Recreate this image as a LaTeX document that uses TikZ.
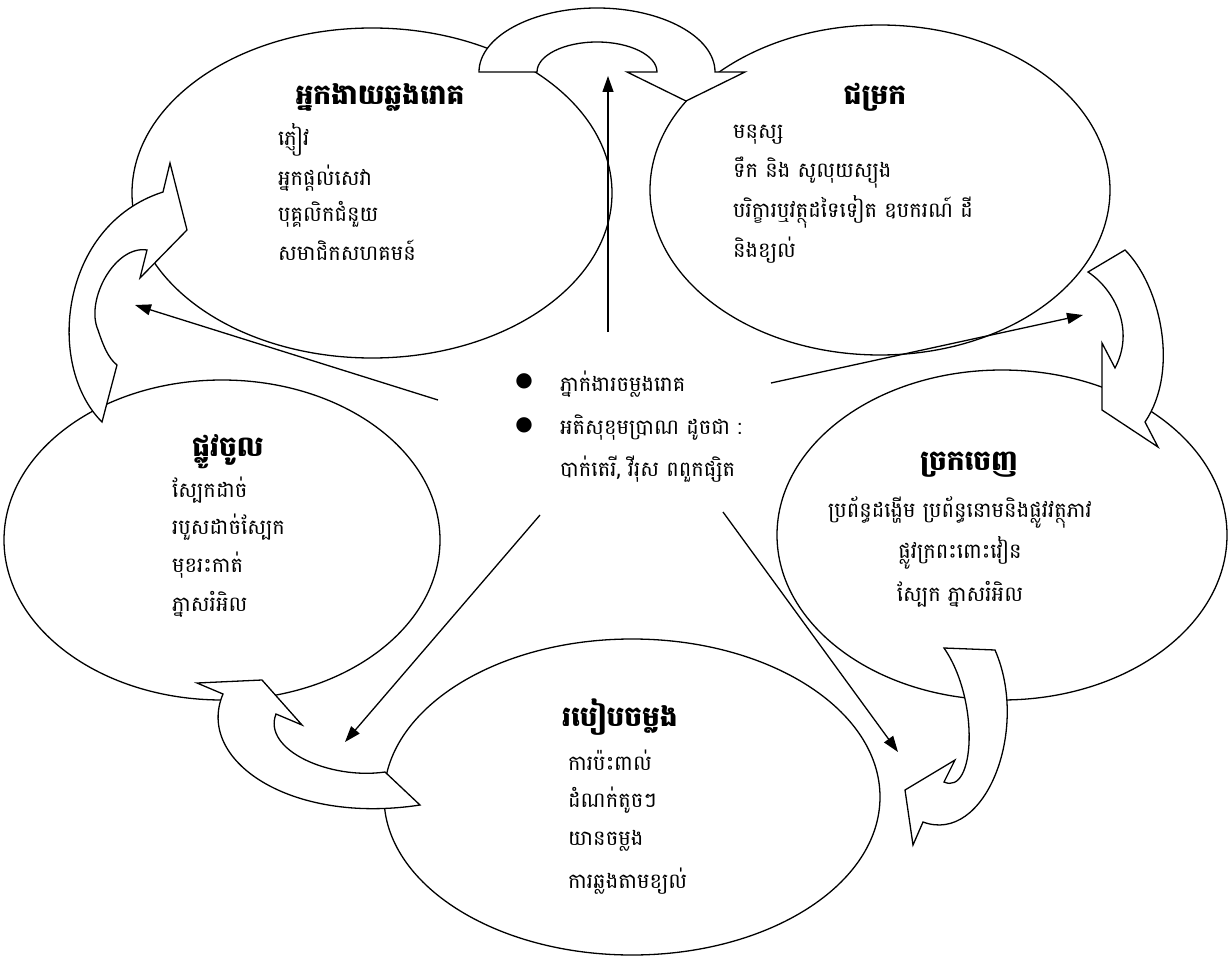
\documentclass[tikz,border=0pt]{standalone}
\usepackage{fontspec}
\newfontfamily\kh[Script=Khmer]{Battambang}
\newfontfamily\dv{DejaVu Sans}
\usetikzlibrary{arrows.meta,shapes.geometric}
\begin{document}
\begin{tikzpicture}[x=1pt,y=-1pt,
  ell/.style={draw,fill=white,line width=1.3pt,ellipse,inner sep=0},
  carrow/.style={draw,fill=white,line width=1.3pt,line join=miter},
  link/.style={-{Triangle[length=16pt,width=11pt]},line width=1.3pt},
  body/.style={font=\kh\fontsize{21}{24}\selectfont,anchor=west,inner sep=0},
  ttl/.style={font=\kh\bfseries\fontsize{28}{30}\selectfont,inner sep=0},
  bul/.style={font=\dv\fontsize{20}{20}\selectfont,inner sep=0},
]
\useasboundingbox (0,0) rectangle (1232,971);
% ellipses
\node[ell,minimum width=480,minimum height=330] (sus) at (372,193) {};
\node[ell,minimum width=460,minimum height=330] (res) at (880,190) {};
\node[ell,minimum width=436,minimum height=320] (ent) at (222,540) {};
\node[ell,minimum width=450,minimum height=330] (ext) at (1002,535) {};
\node[ell,minimum width=496,minimum height=316] (mod) at (632,797) {};
% curved arrows
\draw[carrow] (479,72) .. controls (479,36.7) and (532,8) .. (597,8)
  .. controls (662,8) and (715,36.7) .. (715,72) -- (745,72) -- (686,101)
  -- (627,72) -- (657,72) .. controls (657,55.4) and (630,42) .. (597,42)
  .. controls (564,42) and (537,55.4) .. (537,72) -- cycle;
\draw[carrow] (1088,272) -- (1125,250) .. controls (1160,285) and (1180,370) .. (1145,422)
  -- (1158,447) -- (1102,410) -- (1102,343) -- (1115,368)
  .. controls (1135,330) and (1115,290) .. cycle;
\draw[carrow] (944,648) -- (995,650) .. controls (1030,730) and (985,845) .. (923,822)
  -- (913,845) -- (905,790) -- (955,760) -- (944,782)
  .. controls (975,796) and (980,700) .. cycle;
\draw[carrow] (223,694) -- (197,683) -- (262,680) -- (302,725) -- (276,714)
  .. controls (262,750) and (330,780) .. (385,772) -- (420,805)
  .. controls (290,825) and (195,760) .. cycle;
\draw[carrow] (102,422) .. controls (45,365) and (60,225) .. (163,192)
  -- (170,163) -- (187,230) -- (140,278) -- (147,250)
  .. controls (115,245) and (85,300) .. (98,330)
  .. controls (103,345) and (108,358) .. (117,365) -- cycle;
% texts
\node[ttl] (t1) at (380,97) {អ្នកងាយឆ្លងរោគ};
\node[body] (a1) at (278,140) {ភ្ញៀវ};
\node[body] (a2) at (278,178) {អ្នកផ្តល់សេវា};
\node[body] (a3) at (278,214) {បុគ្គលិកជំនួយ};
\node[body] (a4) at (278,250) {សមាជិកសហគមន៍};
\node[ttl] (t2) at (875,97) {ជម្រក};
\node[body] (b1) at (733,135) {មនុស្ស};
\node[body] (b2) at (733,173) {ទឹក និង សូលុយស្យុង};
\node[body] (b3) at (733,212) {បរិក្ខារឬវត្ថុដទៃទៀត ឧបករណ៍ ដី};
\node[body] (b4) at (733,250) {និងខ្យល់};
\node[ttl] (t3) at (228,452) {ផ្លូវចូល};
\node[body] (c1) at (172,490) {ស្បែកដាច់};
\node[body] (c2) at (172,527) {របួសដាច់ស្បែក};
\node[body] (c3) at (172,565) {មុខរះកាត់};
\node[body] (c4) at (172,604) {ភ្នាសរំអិល};
\node[ttl] (t4) at (969,465) {ច្រកចេញ};
\node[body,anchor=center] (d1) at (960,512) {ប្រព័ន្ធដង្ហើម ប្រព័ន្ធនោមនិងផ្លូវវត្ថុភាវ};
\node[body,anchor=center] (d2) at (960,553) {ផ្លូវក្រពះពោះវៀន};
\node[body,anchor=center] (d3) at (960,594) {ស្បែក ភ្នាសរំអិល};
\node[ttl] (t5) at (620,717) {របៀបចម្លង};
\node[body] (e1) at (568,760) {ការប៉ះពាល់};
\node[body] (e2) at (568,800) {ដំណក់តូចៗ};
\node[body] (e3) at (568,841) {យានចម្លង};
\node[body] (e4) at (568,881) {ការឆ្លងតាមខ្យល់};
% centre
\node[bul] (g1) at (524,381) {●};
\node[bul] (g2) at (524,425) {●};
\node[body] (f1) at (560,384) {ភ្នាក់ងារចម្លងរោគ};
\node[body] (f2) at (560,428) {អតិសុខុមប្រាណ ដូចជា :};
\node[body] (f3) at (560,469) {បាក់តេរី, វីរុស ពពួកផ្សិត};
% straight connectors
\coordinate (s1) at (608,332); \coordinate (p1) at (608,76);
\coordinate (s2) at (438,400); \coordinate (p2) at (135,305);
\coordinate (s3) at (771,383); \coordinate (p3) at (1083,315);
\coordinate (s4) at (540,515); \coordinate (p4) at (345,742);
\coordinate (s5) at (723,512); \coordinate (p5) at (898,752);
\draw[link] (s1) -- (p1);
\draw[link] (s2) -- (p2);
\draw[link] (s3) -- (p3);
\draw[link] (s4) -- (p4);
\draw[link] (s5) -- (p5);
\end{tikzpicture}
\end{document}
